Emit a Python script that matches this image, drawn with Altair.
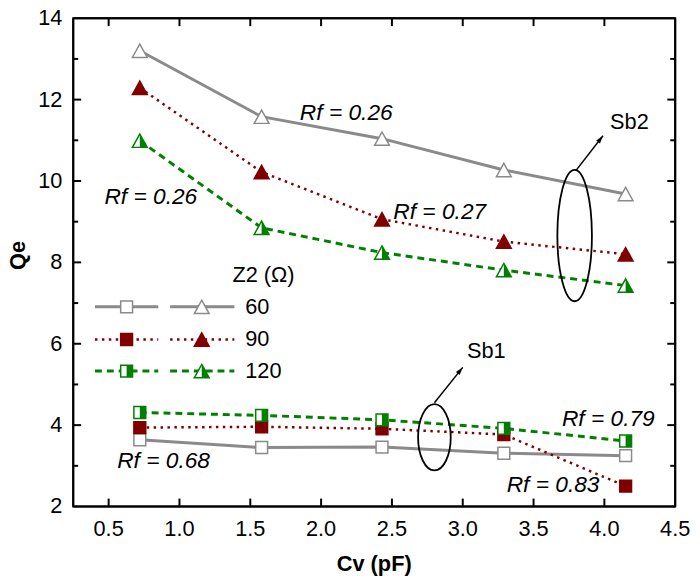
import math
import pandas as pd
import altair as alt

# x values (Cv, pF) shared by every series
cv = [0.72, 1.58, 2.43, 3.29, 4.15]
z2 = [60, 90, 120]

# Qe, band Sb2 (triangles) and Sb1 (squares)
sb2_60 = [13.20, 11.58, 11.04, 10.27, 9.68]
sb2_90 = [12.29, 10.22, 9.06, 8.51, 8.20]
sb2_120 = [10.99, 8.85, 8.24, 7.81, 7.43]
sb1_60 = [3.64, 3.45, 3.46, 3.31, 3.25]
sb1_90 = [3.94, 3.96, 3.91, 3.77, 2.50]
sb1_120 = [4.31, 4.24, 4.13, 3.92, 3.61]

# Rf annotations
rf_text = ['Rf = 0.26', 'Rf = 0.26', 'Rf = 0.27', 'Rf = 0.68', 'Rf = 0.79', 'Rf = 0.83']
rf_x = [1.85, 0.47, 2.51, 0.56, 3.70, 3.31]
rf_y = [11.67, 9.60, 9.24, 3.12, 4.16, 2.53]

# band callouts: ellipse centre, arrow start/end, label
band = ['Sb1', 'Sb2']
ell_x = [2.80, 3.79]
ell_y = [3.70, 8.66]
arr_x = [2.80, 3.80]
arr_y = [4.55, 10.26]
arr_x2 = [3.00, 3.99]
arr_y2 = [5.42, 11.11]
lab_x = [3.03, 4.04]
lab_y = [5.81, 11.45]

# axis ticks and tick labels
x_major = [0.5, 1.0, 1.5, 2.0, 2.5, 3.0, 3.5, 4.0]
y_major = [4, 6, 8, 10, 12]
y_minor = [3, 5, 7, 9, 11, 13]
x_labels = [0.5, 1.0, 1.5, 2.0, 2.5, 3.0, 3.5, 4.0, 4.5]
y_labels = [2, 4, 6, 8, 10, 12, 14]
x_title = 'Cv (pF)'
y_title = 'Qe'

GRAY = '#8a8a8a'
RED = '#800000'
GREEN = '#008000'
FONT = 'Liberation Sans'

W, H = 609, 494
XDOM = [0.25, 4.5]
YDOM = [2, 14]
PX_X = W / (XDOM[1] - XDOM[0])
PX_Y = H / (YDOM[1] - YDOM[0])

SQ = 'M-1,-1L1,-1L1,1L-1,1Z'
SQ_HALF = 'M0,-1L1,-1L1,1L0,1Z'
TRI = 'M0,-0.9L1,0.9L-1,0.9Z'
TRI_HALF = 'M0,-0.9L1,0.9L0,0.9Z'
ARROW = 'M0,0L0.6,2L-0.6,2Z'

LINE = {
    60: dict(color=GRAY, strokeWidth=3),
    90: dict(color=RED, strokeWidth=2.5, strokeDash=[2.5, 4.5]),
    120: dict(color=GREEN, strokeWidth=3, strokeDash=[7, 5]),
}
MARK = {
    60: dict(fill='white', stroke=GRAY),
    90: dict(fill=RED, stroke=RED),
    120: dict(fill='white', stroke=GREEN),
}
SHAPES = {'Sb1': (SQ, SQ_HALF, 144), 'Sb2': (TRI, TRI_HALF, 225)}

rows = []
for sb, series in [('Sb1', [sb1_60, sb1_90, sb1_120]), ('Sb2', [sb2_60, sb2_90, sb2_120])]:
    for z, vals in zip(z2, series):
        for c, q in zip(cv, vals):
            rows.append({'sb': sb, 'z': z, 'cv': c, 'qe': q})
df = pd.DataFrame(rows)

xs = alt.Scale(domain=XDOM, nice=False, zero=False)
ys = alt.Scale(domain=YDOM, nice=False, zero=False)


def X(field='cv'):
    return alt.X(field + ':Q', scale=xs, axis=None)


def Y(field='qe'):
    return alt.Y(field + ':Q', scale=ys, axis=None)


def text(**kw):
    style = dict(font=FONT, fontSize=22, color='black')
    style.update(kw)
    return style


layers = []

# tick labels and axis titles
xl = pd.DataFrame({'v': x_labels, 't': [f'{v:.1f}' for v in x_labels]})
yl = pd.DataFrame({'v': y_labels, 't': [str(v) for v in y_labels]})
layers.append(alt.Chart(xl).mark_text(**text(align='center', baseline='middle')).encode(
    x=X('v'), y=alt.value(H + 23), text='t:N'))
layers.append(alt.Chart(yl).mark_text(**text(align='right', baseline='middle')).encode(
    x=alt.value(-11), y=Y('v'), text='t:N'))
titles = pd.DataFrame({'t': [x_title, y_title]})
layers.append(alt.Chart(titles).transform_filter(alt.datum.t == x_title).mark_text(
    **text(align='center', baseline='middle', fontWeight='bold')).encode(
    x=alt.value(W / 2), y=alt.value(H + 58), text='t:N'))
layers.append(alt.Chart(titles).transform_filter(alt.datum.t == y_title).mark_text(
    **text(align='center', baseline='middle', fontWeight='bold', angle=270)).encode(
    x=alt.value(-56), y=alt.value(240), text='t:N'))

# series lines
for z in z2:
    layers.append(
        alt.Chart(df).transform_filter(alt.datum.z == z).mark_line(**LINE[z]).encode(
            x=X(), y=Y(), detail='sb:N')
    )

# series markers
for sb in band:
    shp, half, sz = SHAPES[sb]
    for z in z2:
        layers.append(
            alt.Chart(df).transform_filter((alt.datum.z == z) & (alt.datum.sb == sb)).mark_point(
                shape=shp, size=sz, filled=True, opacity=1, strokeWidth=1.5, **MARK[z]).encode(
                x=X(), y=Y())
        )
    layers.append(
        alt.Chart(df).transform_filter((alt.datum.z == 120) & (alt.datum.sb == sb)).mark_point(
            shape=half, size=sz, filled=True, opacity=1, color=GREEN, strokeWidth=0).encode(
            x=X(), y=Y())
    )

# Rf labels
ann = pd.DataFrame({'text': rf_text, 'x': rf_x, 'y': rf_y})
layers.append(
    alt.Chart(ann).mark_text(**text(align='left', baseline='middle', fontSize=23,
                                    fontStyle='italic')).encode(
        x=X('x'), y=Y('y'), text='text:N')
)

# band ellipses, arrows and names
ell_w = [33, 35]
ell_h = [67, 133]
for i in range(2):
    r = ell_w[i] / ell_h[i]
    k = 0.5523
    path = (f'M0,-1C{r * k:.3f},-1 {r:.3f},-{k} {r:.3f},0C{r:.3f},{k} {r * k:.3f},1 0,1'
            f'C-{r * k:.3f},1 -{r:.3f},{k} -{r:.3f},0C-{r:.3f},-{k} -{r * k:.3f},-1 0,-1Z')
    one = pd.DataFrame({'x': [ell_x[i]], 'y': [ell_y[i]], 'ax': [arr_x[i]], 'ay': [arr_y[i]],
                        'ax2': [arr_x2[i]], 'ay2': [arr_y2[i]], 'lx': [lab_x[i]], 'ly': [lab_y[i]],
                        'name': [band[i]]})
    ang = math.degrees(math.atan2((arr_x2[i] - arr_x[i]) * PX_X, (arr_y2[i] - arr_y[i]) * PX_Y))
    base = alt.Chart(one)
    layers.append(base.mark_point(shape=path, size=ell_h[i] ** 2, filled=False, stroke='black',
                                  strokeWidth=1.8, opacity=1).encode(x=X('x'), y=Y('y')))
    layers.append(base.mark_rule(color='black', strokeWidth=1.5).encode(
        x=X('ax'), y=Y('ay'), x2='ax2:Q', y2='ay2:Q'))
    layers.append(base.mark_point(shape=ARROW, size=64, filled=True, color='black', opacity=1,
                                  angle=round(ang, 1)).encode(x=X('ax2'), y=Y('ay2')))
    layers.append(base.mark_text(**text(align='left', baseline='middle')).encode(
        x=X('lx'), y=Y('ly'), text='name:N'))

# hand-made legend
leg_y = [292, 325, 357]
leg = pd.DataFrame({'t': ['Z2 (Ω)']})
layers.append(alt.Chart(leg).mark_text(**text(align='left', baseline='middle')).encode(
    x=alt.value(161), y=alt.value(260), text='t:N'))
for z, yy in zip(z2, leg_y):
    one = pd.DataFrame({'z': [z]})
    base = alt.Chart(one)
    for x0, x1 in [(22, 86), (98, 163)]:
        layers.append(base.mark_rule(**LINE[z]).encode(
            x=alt.value(x0), x2=alt.value(x1), y=alt.value(yy)))
    for xm, sb in [(54, 'Sb1'), (130, 'Sb2')]:
        shp, half, sz = SHAPES[sb]
        layers.append(base.mark_point(shape=shp, size=sz, filled=True, opacity=1, strokeWidth=1.5,
                                      **MARK[z]).encode(x=alt.value(xm), y=alt.value(yy)))
        if z == 120:
            layers.append(base.mark_point(shape=half, size=sz, filled=True, opacity=1, color=GREEN,
                                          strokeWidth=0).encode(x=alt.value(xm), y=alt.value(yy)))
    layers.append(base.mark_text(**text(align='left', baseline='middle')).encode(
        x=alt.value(174), y=alt.value(yy), text='z:N'))

# plot frame and inward ticks, drawn last, both ends through the scales
tick_rows = [
    {'x': XDOM[0], 'x2': XDOM[1], 'y': YDOM[0], 'y2': YDOM[0]},
    {'x': XDOM[0], 'x2': XDOM[1], 'y': YDOM[1], 'y2': YDOM[1]},
    {'x': XDOM[0], 'x2': XDOM[0], 'y': YDOM[0], 'y2': YDOM[1]},
    {'x': XDOM[1], 'x2': XDOM[1], 'y': YDOM[0], 'y2': YDOM[1]},
]
for v in x_major:
    tick_rows.append({'x': v, 'x2': v, 'y': YDOM[0], 'y2': YDOM[0] + 8 / PX_Y})
    tick_rows.append({'x': v, 'x2': v, 'y': YDOM[1], 'y2': YDOM[1] - 8 / PX_Y})
for vals, ln in [(y_major, 8), (y_minor, 5)]:
    for v in vals:
        tick_rows.append({'x': XDOM[0], 'x2': XDOM[0] + ln / PX_X, 'y': v, 'y2': v})
        tick_rows.append({'x': XDOM[1], 'x2': XDOM[1] - ln / PX_X, 'y': v, 'y2': v})
ticks = pd.DataFrame(tick_rows)
layers.append(alt.Chart(ticks).mark_rule(color='black', strokeWidth=2).encode(
    x=X('x'), x2='x2:Q', y=Y('y'), y2='y2:Q'))

chart = alt.layer(*layers).properties(
    width=W, height=H,
    autosize=alt.AutoSizeParams(type='none'),
    padding={'left': 66, 'top': 7, 'right': 17, 'bottom': 71},
).configure_view(
    stroke='black', strokeWidth=2
)

chart.save('out.html', embed_options={'renderer': 'svg', 'actions': False})
